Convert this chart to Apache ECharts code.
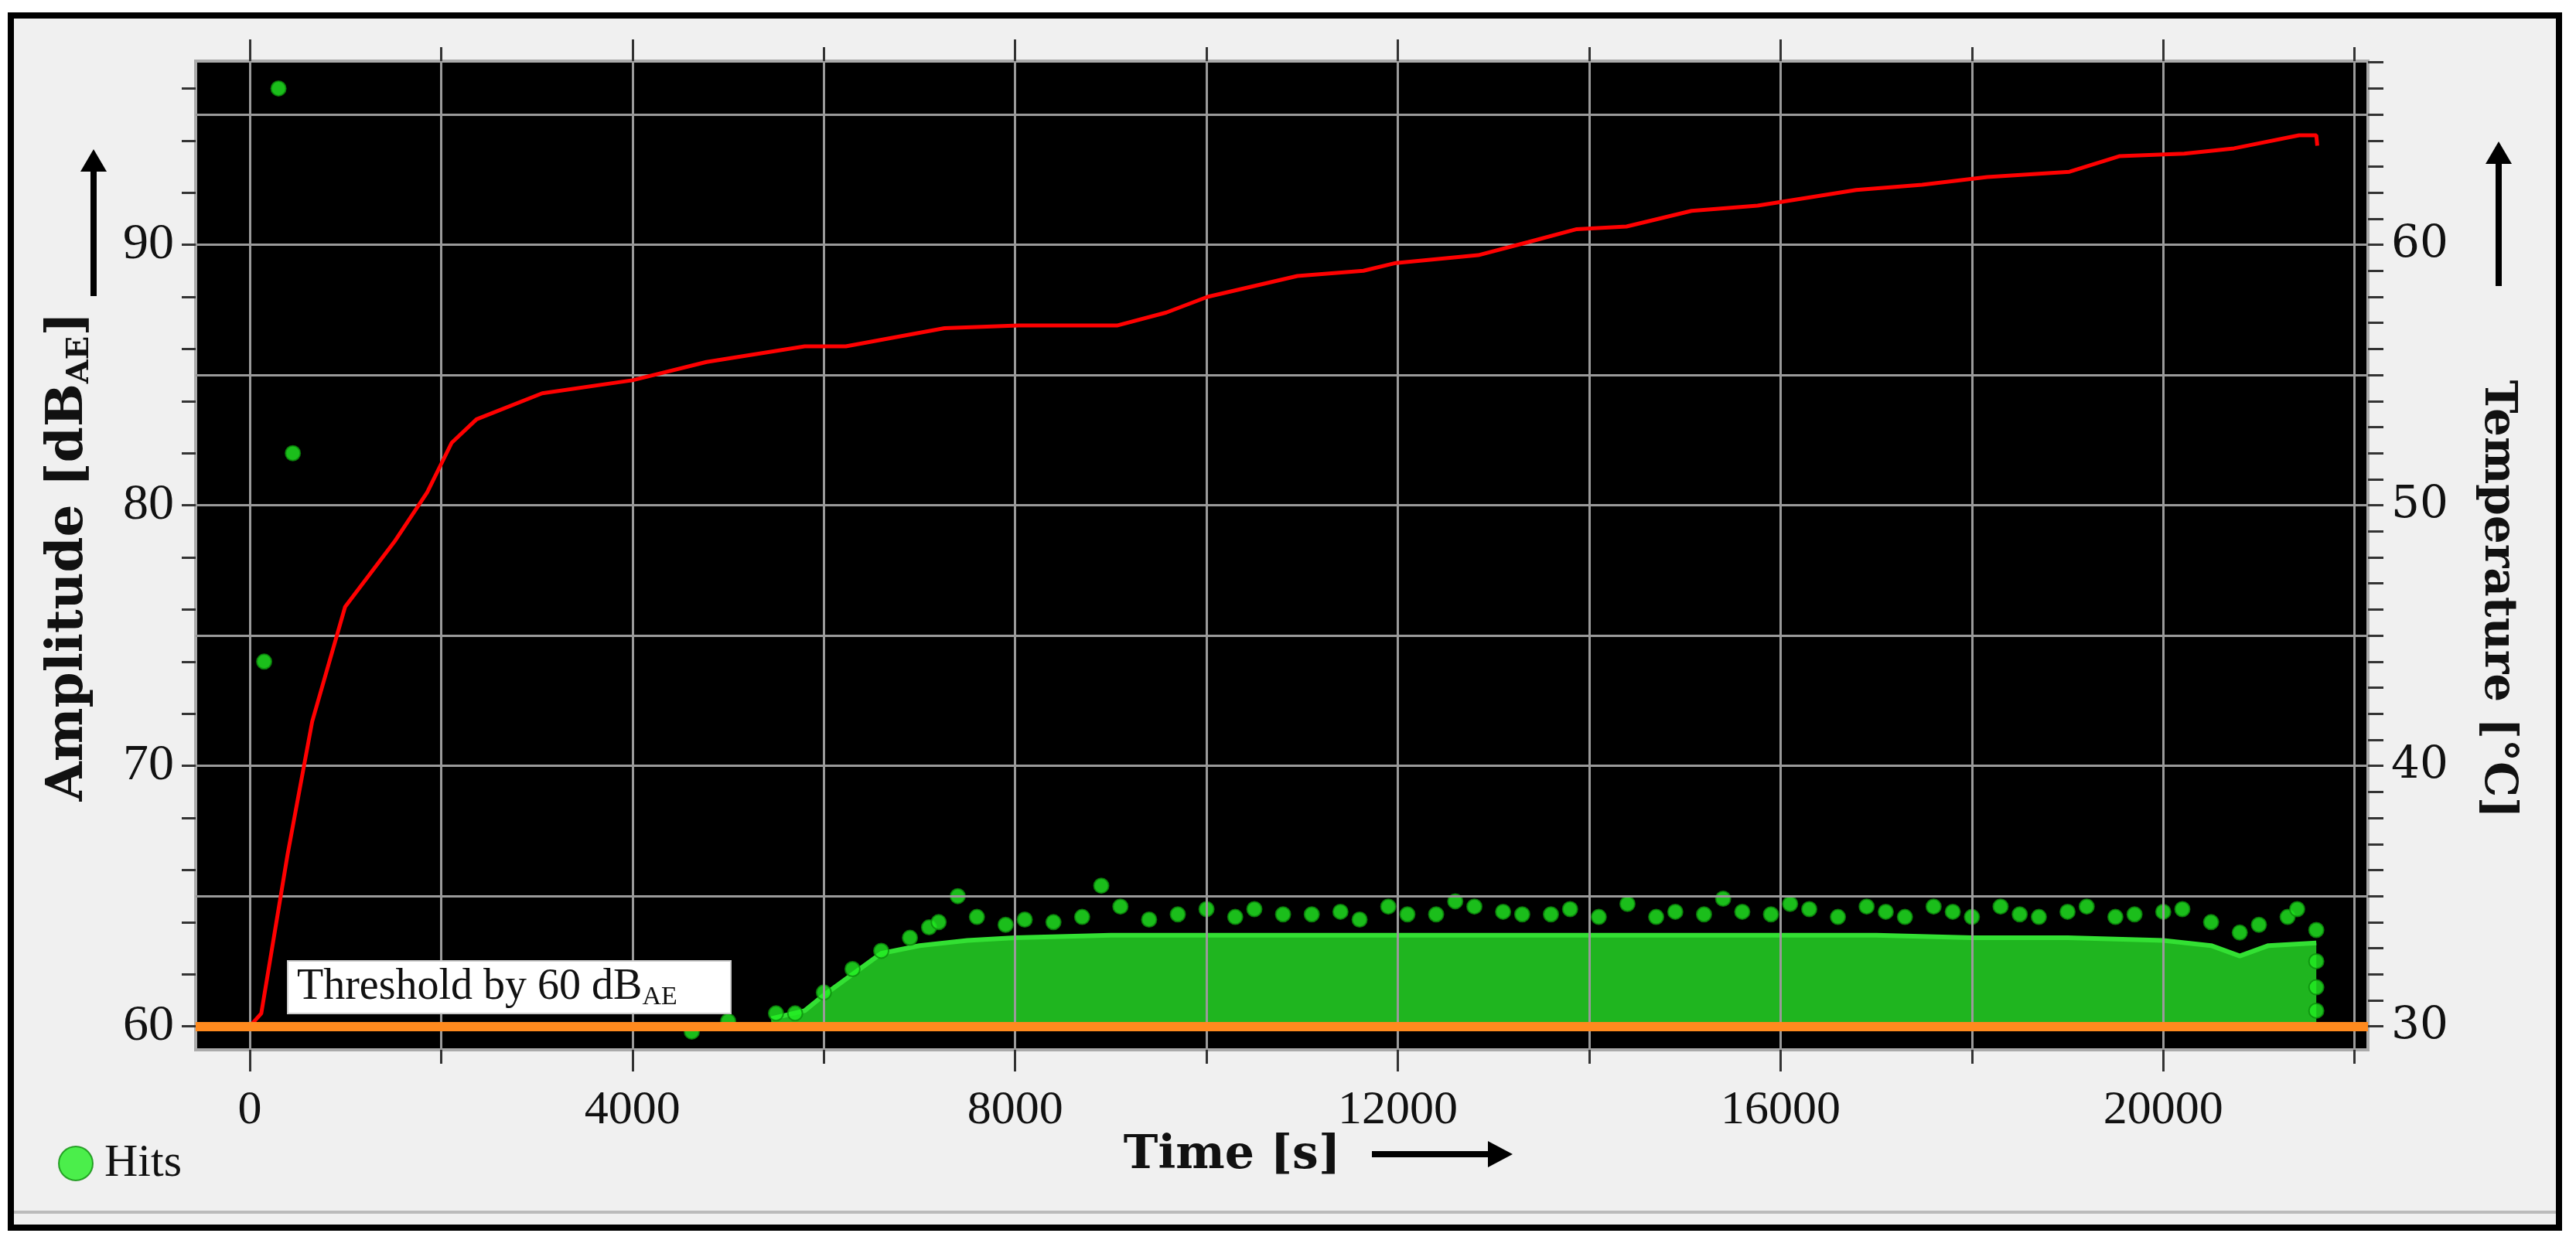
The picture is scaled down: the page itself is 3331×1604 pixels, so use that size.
<!DOCTYPE html>
<html>
<head>
<meta charset="utf-8">
<script src="https://cdn.jsdelivr.net/npm/echarts@6/dist/echarts.min.js"></script>
<style>
  html, body { margin: 0; padding: 0; background: #fff; }
  #chart { width: 3331px; height: 1604px; }
</style>
</head>
<body>
<div id="chart"></div>
<script>
// temperature curve [time s, °C]
var tempData = [
  [0, 30], [120, 30.5], [395, 36.6], [652, 41.7], [996, 46.1], [1511, 48.6], [1854, 50.5],
  [2110, 52.4], [2370, 53.3], [3056, 54.3], [4000, 54.8], [4773, 55.5], [5800, 56.1],
  [6230, 56.1], [7262, 56.8], [8034, 56.9], [9064, 56.9], [9580, 57.4], [10010, 58.0],
  [10950, 58.8], [11640, 59.0], [11980, 59.3], [12840, 59.6], [13360, 60.1], [13870, 60.6],
  [14390, 60.7], [15070, 61.3], [15760, 61.5], [16270, 61.8], [16790, 62.1], [17480, 62.3],
  [18160, 62.6], [19020, 62.8], [19540, 63.4], [20220, 63.5], [20740, 63.7], [21420, 64.2],
  [21600, 64.2], [21610, 63.8]
];
// upper edge of the dense hit cloud [time s, dB]
var cloudTop = [
  [5450, 60.3], [5800, 60.6], [6000, 61.2], [6300, 62.0], [6600, 62.8], [7000, 63.1],
  [7500, 63.3], [8000, 63.4], [9000, 63.5], [10000, 63.5], [11000, 63.5], [12000, 63.5],
  [13000, 63.5], [14000, 63.5], [15000, 63.5], [16000, 63.5], [17000, 63.5], [18000, 63.4],
  [19000, 63.4], [20000, 63.3], [20500, 63.1], [20800, 62.7], [21100, 63.1], [21600, 63.2]
];
// individually visible hits [time s, dB]
var hits = [
  [150, 74], [300, 96], [450, 82], [4620, 59.8], [5000, 60.2], [5500, 60.5], [5700, 60.5],
  [6000, 61.3], [6300, 62.2], [6600, 62.9], [6900, 63.4], [7100, 63.8], [7200, 64.0],
  [7400, 65.0], [7600, 64.2], [7900, 63.9], [8100, 64.1], [8400, 64.0], [8700, 64.2],
  [8900, 65.4], [9100, 64.6], [9400, 64.1], [9700, 64.3], [10000, 64.5], [10300, 64.2],
  [10500, 64.5], [10800, 64.3], [11100, 64.3], [11400, 64.4], [11600, 64.1], [11900, 64.6],
  [12100, 64.3], [12400, 64.3], [12600, 64.8], [12800, 64.6], [13100, 64.4], [13300, 64.3],
  [13600, 64.3], [13800, 64.5], [14100, 64.2], [14400, 64.7], [14700, 64.2], [14900, 64.4],
  [15200, 64.3], [15400, 64.9], [15600, 64.4], [15900, 64.3], [16100, 64.7], [16300, 64.5],
  [16600, 64.2], [16900, 64.6], [17100, 64.4], [17300, 64.2], [17600, 64.6], [17800, 64.4],
  [18000, 64.2], [18300, 64.6], [18500, 64.3], [18700, 64.2], [19000, 64.4], [19200, 64.6],
  [19500, 64.2], [19700, 64.3], [20000, 64.4], [20200, 64.5], [20500, 64.0], [20800, 63.6],
  [21000, 63.9], [21300, 64.2], [21400, 64.5], [21600, 63.7], [21600, 62.5], [21600, 61.5], [21600, 60.6]
];
var xLabels = [0, 4000, 8000, 12000, 16000, 20000];
var xMajor = [0, 4000, 8000, 12000, 16000, 20000];
var xMinor = [2000, 6000, 10000, 14000, 18000, 22000];
var xGrid = [0, 2000, 4000, 6000, 8000, 10000, 12000, 14000, 16000, 18000, 20000, 22000];
var ampLabels = [60, 70, 80, 90];
var ampTicks = [60, 62, 64, 66, 68, 70, 72, 74, 76, 78, 80, 82, 84, 86, 88, 90, 92, 94, 96];
var ampGrid = [65, 70, 75, 80, 85, 90, 95];
var tempLabels = [30, 40, 50, 60];
var tempTicks = [30, 31, 32, 33, 34, 35, 36, 37, 38, 39, 40, 41, 42, 43, 44, 45, 46, 47, 48,
  49, 50, 51, 52, 53, 54, 55, 56, 57, 58, 59, 60, 61, 62, 63, 64, 65, 66, 67];
var threshold = 60;

var chart = echarts.init(document.getElementById('chart'));
var serif = 'Liberation Serif';
var tickStyle = { color: '#333', width: 3 };

function xAx(pos, ticks, len, labels) {
  return {
    type: 'value', position: pos, min: -566, max: 22140,
    axisLine: { show: false, onZero: false }, splitLine: { show: false },
    axisTick: { show: true, customValues: ticks, length: len, lineStyle: tickStyle },
    axisLabel: labels ? { show: true, customValues: labels, margin: 48, fontFamily: serif, fontSize: 62, color: '#111',
      formatter: function (v) { return String(v); } } : { show: false }
  };
}

var option = {
  backgroundColor: '#fff',
  animation: false,
  graphic: [
    { type: 'rect', z: -10, shape: { x: 14, y: 20, width: 3295, height: 1568 }, style: { fill: '#f0f0f0', stroke: '#000', lineWidth: 8 } },
    { type: 'line', z: -9, shape: { x1: 18, y1: 1568, x2: 3305, y2: 1568 }, style: { stroke: '#bbb', lineWidth: 4 } },
    // threshold label
    { type: 'rect', shape: { x: 372, y: 1243, width: 573, height: 68 }, style: { fill: '#fff', stroke: '#ccc', lineWidth: 2 }, z: 50 },
    { type: 'text', x: 384, y: 1277, z: 51, style: { text: '{a|Threshold by 60 dB}{b|AE}', verticalAlign: 'middle',
      rich: { a: { fontFamily: serif, fontSize: 56, fill: '#111' }, b: { fontFamily: serif, fontSize: 34, fill: '#111', padding: [26, 0, 0, 0] } } } },
    // axis titles
    { type: 'text', x: 89, y: 720, rotation: Math.PI / 2, style: { text: '{a|Amplitude [dB}{b|AE}{a|]}', align: 'center', verticalAlign: 'middle',
      rich: { a: { fontFamily: 'DejaVu Serif', fontWeight: 'bold', fontSize: 66, fill: '#111' }, b: { fontFamily: 'DejaVu Serif', fontWeight: 'bold', fontSize: 40, fill: '#111', padding: [30, 0, 0, 0] } } } },
    { type: 'text', x: 3229, y: 775, rotation: -Math.PI / 2, style: { text: 'Temperature [°C]', align: 'center', verticalAlign: 'middle', fontFamily: 'DejaVu Serif', fontWeight: 'bold', fontSize: 58, fill: '#111' } },
    { type: 'text', x: 1593, y: 1495, style: { text: 'Time [s]', align: 'center', verticalAlign: 'middle', fontFamily: 'DejaVu Serif', fontWeight: 'bold', fontSize: 60, fill: '#111' } },
    // arrows
    { type: 'line', shape: { x1: 121, y1: 383, x2: 121, y2: 215 }, style: { stroke: '#000', lineWidth: 8 } },
    { type: 'polygon', shape: { points: [[104, 222], [138, 222], [121, 193]] }, style: { fill: '#000' } },
    { type: 'line', shape: { x1: 3231, y1: 370, x2: 3231, y2: 205 }, style: { stroke: '#000', lineWidth: 8 } },
    { type: 'polygon', shape: { points: [[3214, 212], [3248, 212], [3231, 183]] }, style: { fill: '#000' } },
    { type: 'line', shape: { x1: 1774, y1: 1493, x2: 1930, y2: 1493 }, style: { stroke: '#000', lineWidth: 8 } },
    { type: 'polygon', shape: { points: [[1924, 1476], [1924, 1510], [1956, 1493]] }, style: { fill: '#000' } }
  ],
  legend: {
    left: 70, top: 1470, itemWidth: 44, itemHeight: 44, itemGap: 10,
    textStyle: { fontFamily: serif, fontSize: 60, color: '#111', padding: [0, 0, 0, 10] },
    data: [{ name: 'Hits', icon: 'circle' }]
  },
  grid: { left: 253, top: 79, right: 269, bottom: 246, show: true, backgroundColor: '#000', borderColor: '#aaa', borderWidth: 4 },
  xAxis: [
    xAx('bottom', xMajor, 28, xLabels),
    xAx('bottom', xMinor, 18, null),
    xAx('top', xMajor, 28, null),
    xAx('top', xMinor, 18, null)
  ],
  yAxis: [
    { type: 'value', position: 'left', min: 59.1, max: 97.05,
      axisLine: { show: false, onZero: false }, splitLine: { show: false },
      axisTick: { show: true, customValues: ampTicks, length: 18, lineStyle: tickStyle },
      axisLabel: { customValues: ampLabels, margin: 28, fontFamily: serif, fontSize: 66, color: '#111' } },
    { type: 'value', position: 'right', min: 29.1, max: 67.05,
      axisLine: { show: false, onZero: false }, splitLine: { show: false },
      axisTick: { show: true, customValues: tempTicks, length: 20, lineStyle: tickStyle },
      axisLabel: { customValues: tempLabels, margin: 30, fontFamily: 'DejaVu Serif', fontSize: 58, color: '#111' } }
  ],
  series: [
    { name: 'grid', type: 'line', data: [], silent: true,
      markLine: { silent: true, symbol: 'none', label: { show: false }, lineStyle: { color: '#9a9a9a', width: 3, type: 'solid' },
        data: ampGrid.map(function (v) { return { yAxis: v }; }).concat(xGrid.map(function (v) { return { xAxis: v }; })) } },
    { name: 'cloud', type: 'line', data: cloudTop, showSymbol: false, silent: true, z: 3,
      lineStyle: { color: '#33e033', width: 6 },
      areaStyle: { origin: 60, color: '#1fb51f', opacity: 1 } },
    { name: 'Hits', type: 'scatter', data: hits, symbolSize: 19, z: 4,
      itemStyle: { color: '#22ee22', borderColor: '#0c8c0c', borderWidth: 2 },
      markLine: { silent: true, symbol: 'none', label: { show: false }, z: 6,
        lineStyle: { color: '#ff8a1e', width: 12, type: 'solid' }, data: [{ yAxis: threshold }] } },
    { name: 'Temperature', type: 'line', yAxisIndex: 1, data: tempData, showSymbol: false, z: 5,
      lineStyle: { color: '#ff0000', width: 5 } }
  ]
};
chart.setOption(option);
</script>
</body>
</html>
